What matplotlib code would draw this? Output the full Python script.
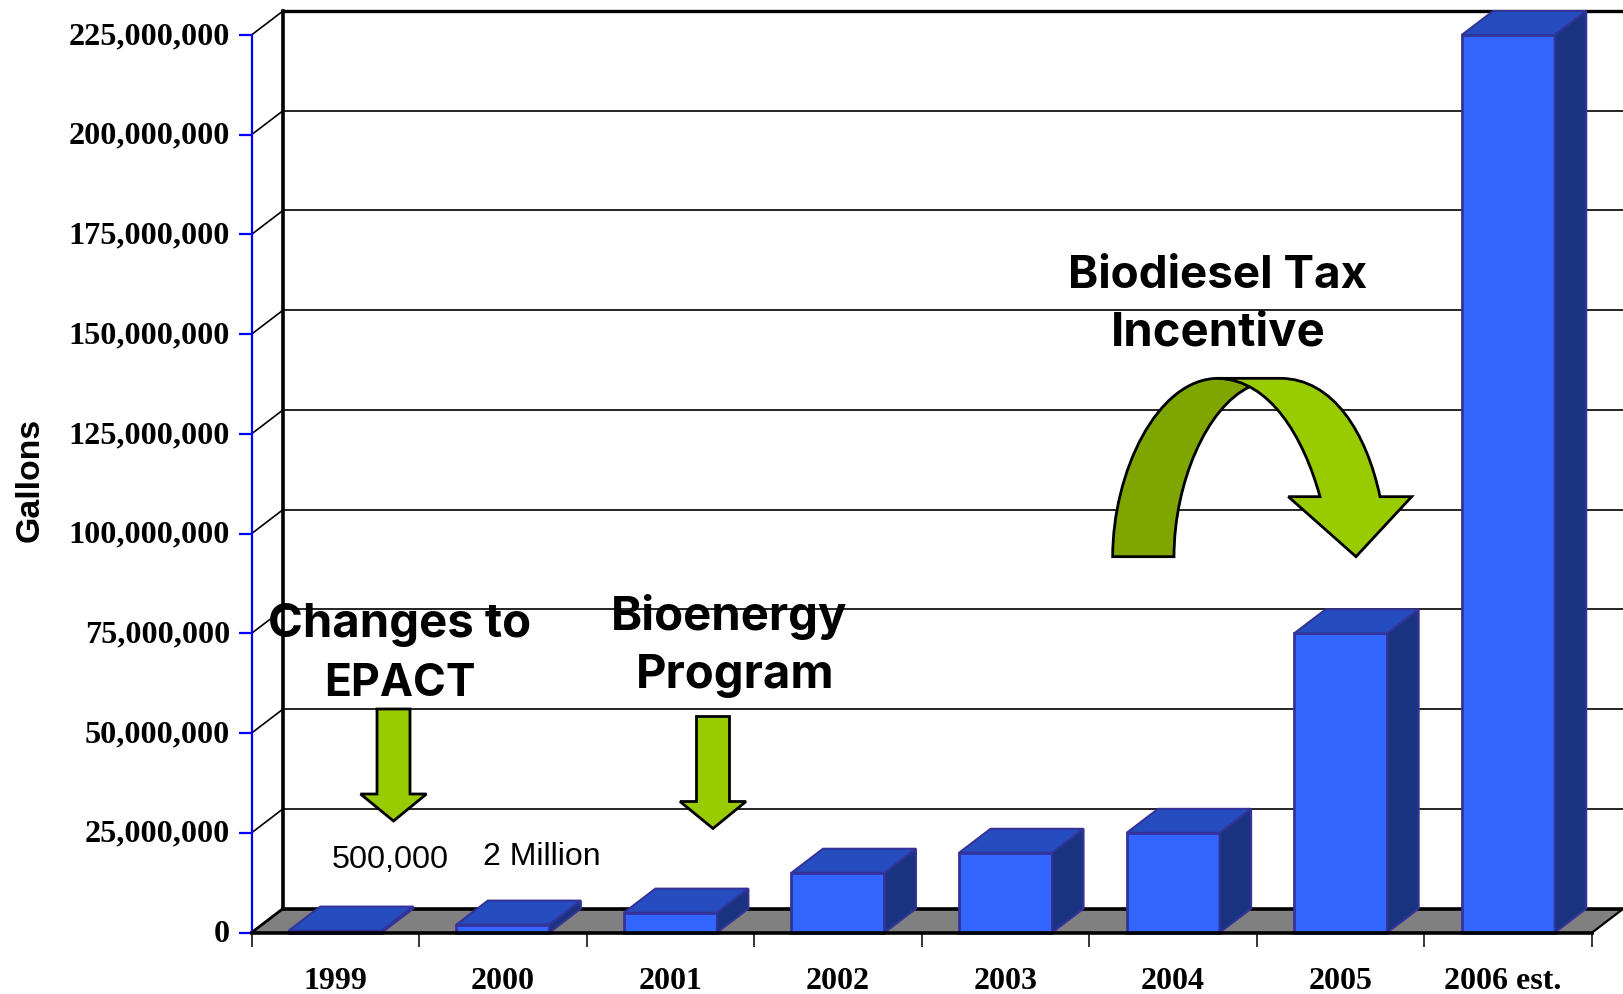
"""US biodiesel production by year, drawn as a fake 3D column chart."""

import matplotlib
matplotlib.use("Agg")
import matplotlib.pyplot as plt
from matplotlib.path import Path
from matplotlib.patches import PathPatch, Polygon
from matplotlib.ticker import StrMethodFormatter
from matplotlib.transforms import ScaledTranslation


years = ["1999", "2000", "2001", "2002", "2003", "2004", "2005", "2006 est."]
gallons = [500_000, 2_000_000, 5_000_000, 15_000_000, 20_000_000, 25_000_000, 75_000_000, 225_000_000]
y_ticks = list(range(0, 225_000_001, 25_000_000))

W, H = 1623, 994
LEFT, RIGHT, TOP, BOTTOM = 251.5, 1592.0, 35.0, 932.6

FRONT = "#3366ff"
ROOF = "#264dbf"
SIDE = "#1a3380"
EDGE = "#333399"
LIME = "#99cc00"
OLIVE = "#7fa500"
SERIF = "Liberation Serif"
HEAD = "Inter"

# depth of the fake 3D box, in data units
DX = 31.5 / ((RIGHT - LEFT) / len(years))
DY = 24.0 / ((BOTTOM - TOP) / y_ticks[-1])
BAR_W = 0.555

fig = plt.figure(figsize=(W / 100, H / 100), dpi=100)
ax = fig.add_axes([LEFT / W, 1 - BOTTOM / H, (RIGHT - LEFT) / W, (BOTTOM - TOP) / H])
ax.set_xlim(0, len(years))
ax.set_ylim(0, y_ticks[-1])
n = len(years)

# floor
ax.add_patch(Polygon([(0, 0), (n, 0), (n + DX, DY), (DX, DY)], fc="#808080", ec="none", clip_on=False, zorder=1))

# back wall gridlines and left wall diagonals
for t in y_ticks[1:]:
    lw = 2.4 if t == y_ticks[-1] else 1.2
    ax.plot([DX, n + DX], [t + DY, t + DY], color="black", lw=lw, clip_on=False, zorder=1.5)
    ax.plot([0, DX], [t, t + DY], color="black", lw=1.2, clip_on=False, zorder=1.5)
ax.plot([DX, DX], [DY, y_ticks[-1] + DY], color="black", lw=2.6, clip_on=False, zorder=1.6)
ax.plot([DX, n + DX], [DY, DY], color="black", lw=2.6, clip_on=False, zorder=1.6)
ax.plot([0, DX], [0, DY], color="black", lw=2.0, clip_on=False, zorder=1.6)
ax.plot([n, n + DX], [0, DY], color="black", lw=1.6, clip_on=False, zorder=1.6)

# columns, front face through bar(), roof and side from the same values
centers = [i + 0.5 for i in range(n)]
ax.bar(centers, gallons, width=BAR_W, color=FRONT, edgecolor=EDGE, linewidth=2, clip_on=False, zorder=3)
for c, v in zip(centers, gallons):
    x0, x1 = c - BAR_W / 2, c + BAR_W / 2
    ax.add_patch(Polygon([(x0, v), (x1, v), (x1 + DX, v + DY), (x0 + DX, v + DY)],
                         fc=ROOF, ec=EDGE, lw=1.5, clip_on=False, zorder=3))
    ax.add_patch(Polygon([(x1, 0), (x1 + DX, DY), (x1 + DX, v + DY), (x1, v)],
                         fc=SIDE, ec=EDGE, lw=1.5, clip_on=False, zorder=3))

# axes
for side in ("top", "right"):
    ax.spines[side].set_visible(False)
ax.spines["left"].set_color("#0000ff")
ax.spines["left"].set_linewidth(1.6)
ax.spines["bottom"].set_linewidth(2.6)
ax.spines["bottom"].set_zorder(4)
ax.patch.set_alpha(0)

ax.set_yticks(y_ticks)
ax.yaxis.set_major_formatter(StrMethodFormatter("{x:,.0f}"))
ax.tick_params(axis="y", length=9.5, width=1.6, color="#0000ff", pad=6)
up = ScaledTranslation(0, 2 / 100, fig.dpi_scale_trans)
for lab in ax.get_yticklabels():
    lab.set(family=SERIF, fontweight="bold", fontsize=23.2)
    lab.set_transform(lab.get_transform() + up)

ax.set_xticks(range(n + 1))
ax.set_xticklabels([])
ax.set_xticks(centers, minor=True)
ax.set_xticklabels(years, minor=True, family=SERIF, fontweight="bold", fontsize=23)
ax.tick_params(axis="x", which="major", length=10, width=1.1, color="black")
ax.tick_params(axis="x", which="minor", length=0, pad=25)
# the last label sits left of its column in the reference
last = ax.get_xticklabels(minor=True)[-1]
last.set_transform(last.get_transform() + ScaledTranslation(-6 / 100, 0, fig.dpi_scale_trans))

fig.text(30 / W, 1 - 480 / H, "Gallons", rotation=90, ha="center", va="center",
         family="Liberation Sans", fontweight="bold", fontsize=24.4)

# overlay in reference pixels for the callouts
over = fig.add_axes([0, 0, 1, 1], zorder=5)
over.set_xlim(0, W)
over.set_ylim(H, 0)
over.axis("off")


def callout(x, y, text, size=34):
    over.text(x, y, text, ha="center", va="baseline", family=HEAD, fontweight="bold", fontsize=size)


callout(400, 637, "Changes to")
callout(400, 696, "EPACT", 32)
callout(729, 630, "Bioenergy")
callout(735, 688, "Program")
callout(1218, 288, "Biodiesel Tax", 33)
callout(1218, 346, "Incentive")
over.text(390, 868, "500,000", ha="center", va="baseline", family="Liberation Sans", fontsize=23.3)
over.text(542, 865, "2 Million", ha="center", va="baseline", family="Liberation Sans", fontsize=23)


def down_arrow(cx, top):
    pts = [(cx - 16.5, top), (cx + 16.5, top), (cx + 16.5, top + 85), (cx + 33, top + 85),
           (cx, top + 112), (cx - 33, top + 85), (cx - 16.5, top + 85)]
    over.add_patch(Polygon(pts, closed=True, fc=LIME, ec="black", lw=2, joinstyle="miter"))


down_arrow(393.5, 709)
down_arrow(713, 716.5)


def zpath(verts):
    return [(1080 + x / 3, 340 + y / 3) for x, y in verts]


C4, L2 = Path.CURVE4, Path.LINETO
dark = zpath([(98, 650), (98, 400), (230, 115), (415, 115), (470, 118), (510, 140),
              (380, 200), (282, 430), (282, 650), (98, 650)])
dark_codes = [Path.MOVETO, C4, C4, C4, L2, L2, C4, C4, C4, Path.CLOSEPOLY]
over.add_patch(PathPatch(Path(dark, dark_codes), fc=OLIVE, ec="black", lw=2))

light = zpath([(415, 115), (600, 115), (760, 115), (860, 280), (900, 470), (995, 470), (828, 650),
               (625, 470), (720, 470), (670, 290), (570, 120), (415, 115), (415, 115)])
light_codes = [Path.MOVETO, L2, C4, C4, C4, L2, L2, L2, L2, C4, C4, C4, Path.CLOSEPOLY]
over.add_patch(PathPatch(Path(light, light_codes), fc=LIME, ec="black", lw=2))

fig.savefig("out.png", dpi=100, facecolor="white")
